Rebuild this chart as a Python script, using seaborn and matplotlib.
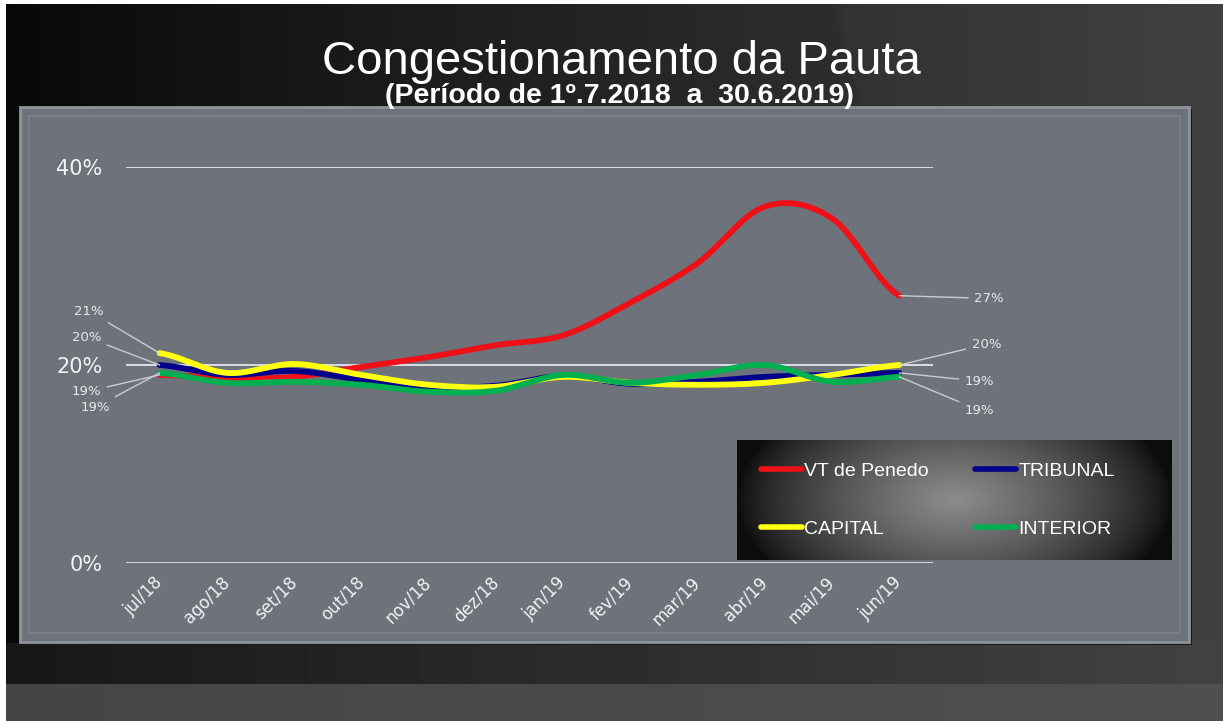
import numpy as np
import pandas as pd
import matplotlib
matplotlib.use("Agg")
import matplotlib.pyplot as plt
import seaborn as sns
from matplotlib.patches import Rectangle
from matplotlib.lines import Line2D

# dados (%)
meses = ['jul/18', 'ago/18', 'set/18', 'out/18', 'nov/18', 'dez/18',
         'jan/19', 'fev/19', 'mar/19', 'abr/19', 'mai/19', 'jun/19']
vt_penedo = [19.0, 18.7, 18.8, 19.8, 20.8, 22.0, 23.0, 26.3, 30.3, 36.0, 34.8, 27.0]
tribunal = [20.0, 19.0, 19.4, 18.5, 17.8, 17.9, 18.9, 18.1, 18.3, 18.8, 19.0, 19.2]
capital = [21.2, 19.2, 20.1, 19.0, 18.0, 17.8, 18.8, 18.2, 18.0, 18.2, 19.0, 20.0]
interior = [19.2, 18.2, 18.3, 18.0, 17.3, 17.4, 19.0, 18.2, 19.0, 20.0, 18.3, 18.8]

series = {'VT de Penedo': vt_penedo, 'TRIBUNAL': tribunal,
          'CAPITAL': capital, 'INTERIOR': interior}
cores = {'VT de Penedo': '#f01018', 'TRIBUNAL': '#00008a',
         'CAPITAL': '#ffff10', 'INTERIOR': '#00b050'}

sns.set_style("white")
plt.rcParams['font.family'] = ['DejaVu Sans']

W, H = 1223, 721


def curva(valores, passos=30):
    # linha suavizada (tipo Excel, Catmull-Rom) so para o desenho
    y = np.asarray(valores, float)
    n = len(y)
    e = np.concatenate([[y[0]], y, [y[-1]]])
    xs, ys = [], []
    for i in range(n - 1):
        p0, p1, p2, p3 = e[i], e[i + 1], e[i + 2], e[i + 3]
        t = np.linspace(0, 1, passos, endpoint=(i == n - 2))
        m1 = (p2 - p0) / 2
        m2 = (p3 - p1) / 2
        h00 = 2 * t**3 - 3 * t**2 + 1
        h10 = t**3 - 2 * t**2 + t
        h01 = -2 * t**3 + 3 * t**2
        h11 = t**3 - t**2
        ys.extend(h00 * p1 + h10 * m1 + h01 * p2 + h11 * m2)
        xs.extend(i + t)
    return xs, ys


linhas = []
for nome, vals in series.items():
    xs, ys = curva(vals)
    linhas.append(pd.DataFrame({'pos': xs, 'valor': ys, 'serie': nome}))
df = pd.concat(linhas, ignore_index=True)

fig = plt.figure(figsize=(W / 100, H / 100), dpi=100)

# fundo do slide
bg = fig.add_axes([0, 0, 1, 1])
bg.set_xlim(0, W)
bg.set_ylim(H, 0)
bg.axis('off')
xx, yy = np.meshgrid(np.arange(W), np.arange(H))
img = 0.03 + 0.21 * (xx / W) ** 0.9
img += np.where(xx > 830 + 0.3 * yy, 0.015, 0)
img = np.where(yy > 683, 0.27 + 0.04 * xx / W, img)
img = np.where((yy > 642) & (yy <= 683), 0.09 + 0.17 * xx / W, img)
img = np.where(xx < 6, 1.0, img)
img = np.where(yy < 4, 1.0, img)
bg.imshow(img, cmap='gray', vmin=0, vmax=1, extent=(0, W, H, 0), aspect='auto')

# painel do grafico
bg.add_patch(Rectangle((22, 109), 1170, 536, facecolor='#1a1a1a', edgecolor='none'))
bg.add_patch(Rectangle((20, 107), 1169, 535, facecolor='#6e737b',
                       edgecolor='#8f949b', lw=2))
bg.add_patch(Rectangle((29, 116), 1151, 517, facecolor='none',
                       edgecolor='#7d828a', lw=1.2))

fig.text(621 / W, 1 - 62 / H, 'Congestionamento da Pauta', ha='center', va='center',
         fontsize=34, color='white', family='Liberation Sans')
fig.text(619 / W, 1 - 96 / H, '(Período de 1º.7.2018  a  30.6.2019)', ha='center',
         va='center', fontsize=20.5, color='white', family='Liberation Sans',
         fontweight='bold')

ax = fig.add_axes([126 / W, 1 - 563 / H, (933 - 126) / W, (563 - 167) / H])
ax.patch.set_alpha(0)
ordem = ['VT de Penedo', 'TRIBUNAL', 'CAPITAL', 'INTERIOR']
sns.lineplot(data=df, x='pos', y='valor', hue='serie', hue_order=ordem,
             palette=cores, linewidth=4.2, estimator=None, sort=False,
             legend=False, ax=ax)

ax.set_xlim(-0.5, 11.5)
ax.set_ylim(0, 40)
ax.set_yticks([0, 20, 40])
ax.set_yticklabels(['0%', '20%', '40%'])
ax.set_xticks(range(len(meses)))
ax.set_xticklabels(meses, rotation=45, ha='right', va='center',
                   rotation_mode='anchor')
ax.tick_params(axis='y', length=0, pad=17, labelsize=15, labelcolor='#f2f2f2')
ax.tick_params(axis='x', length=0, pad=12, labelsize=12, labelcolor='#f2f2f2')
ax.set_xlabel('')
ax.set_ylabel('')
ax.yaxis.grid(True, color='#e4e6ea', lw=1.3)
ax.set_axisbelow(True)
for s in ax.spines.values():
    s.set_visible(False)

# rotulos de dados (primeiro e ultimo mes)
desloc_ini = {'CAPITAL': (-40, 30), 'TRIBUNAL': (-42, 20),
              'VT de Penedo': (-42, -12), 'INTERIOR': (-36, -25)}
desloc_fim = {'VT de Penedo': (54, -2), 'CAPITAL': (52, 15),
              'TRIBUNAL': (47, -6), 'INTERIOR': (47, -24)}
seta = dict(arrowstyle='-', color='#c9ccd1', lw=1, shrinkA=2, shrinkB=0)
for nome, vals in series.items():
    ax.annotate(f'{round(vals[0])}%', xy=(0, vals[0]), xytext=desloc_ini[nome],
                textcoords='offset points', ha='right', va='center',
                fontsize=9.5, color='#e8e8e8', arrowprops=seta)
    ax.annotate(f'{round(vals[-1])}%', xy=(11, vals[-1]), xytext=desloc_fim[nome],
                textcoords='offset points', ha='left', va='center',
                fontsize=9.5, color='#e8e8e8', arrowprops=seta)

# caixa da legenda com gradiente
lg = fig.add_axes([737 / W, 1 - 560 / H, 435 / W, 120 / H])
lg.axis('off')
gx, gy = np.meshgrid(np.linspace(-1, 1, 300), np.linspace(-1, 1, 100))
r = np.clip(np.sqrt(gx**2 + (0.5 * gy) ** 2), 0, 1)
lg.imshow(0.05 + 0.5 * (1 - r) ** 0.75, cmap='gray', vmin=0, vmax=1,
          extent=(0, 1, 0, 1), aspect='auto')
lg.set_xlim(0, 1)
lg.set_ylim(0, 1)
ordem_leg = ['VT de Penedo', 'CAPITAL', 'TRIBUNAL', 'INTERIOR']
hs = [Line2D([], [], color=cores[n], lw=4) for n in ordem_leg]
lg.legend(hs, ordem_leg, ncol=2, loc='center',
          bbox_to_anchor=(938 / W, 1 - 500 / H), bbox_transform=fig.transFigure,
          frameon=False, labelcolor='white', handlelength=2.1, handletextpad=0.1,
          columnspacing=2.4, labelspacing=2.1,
          prop={'family': 'Liberation Sans', 'size': 14})

fig.savefig('out.png', dpi=100)
